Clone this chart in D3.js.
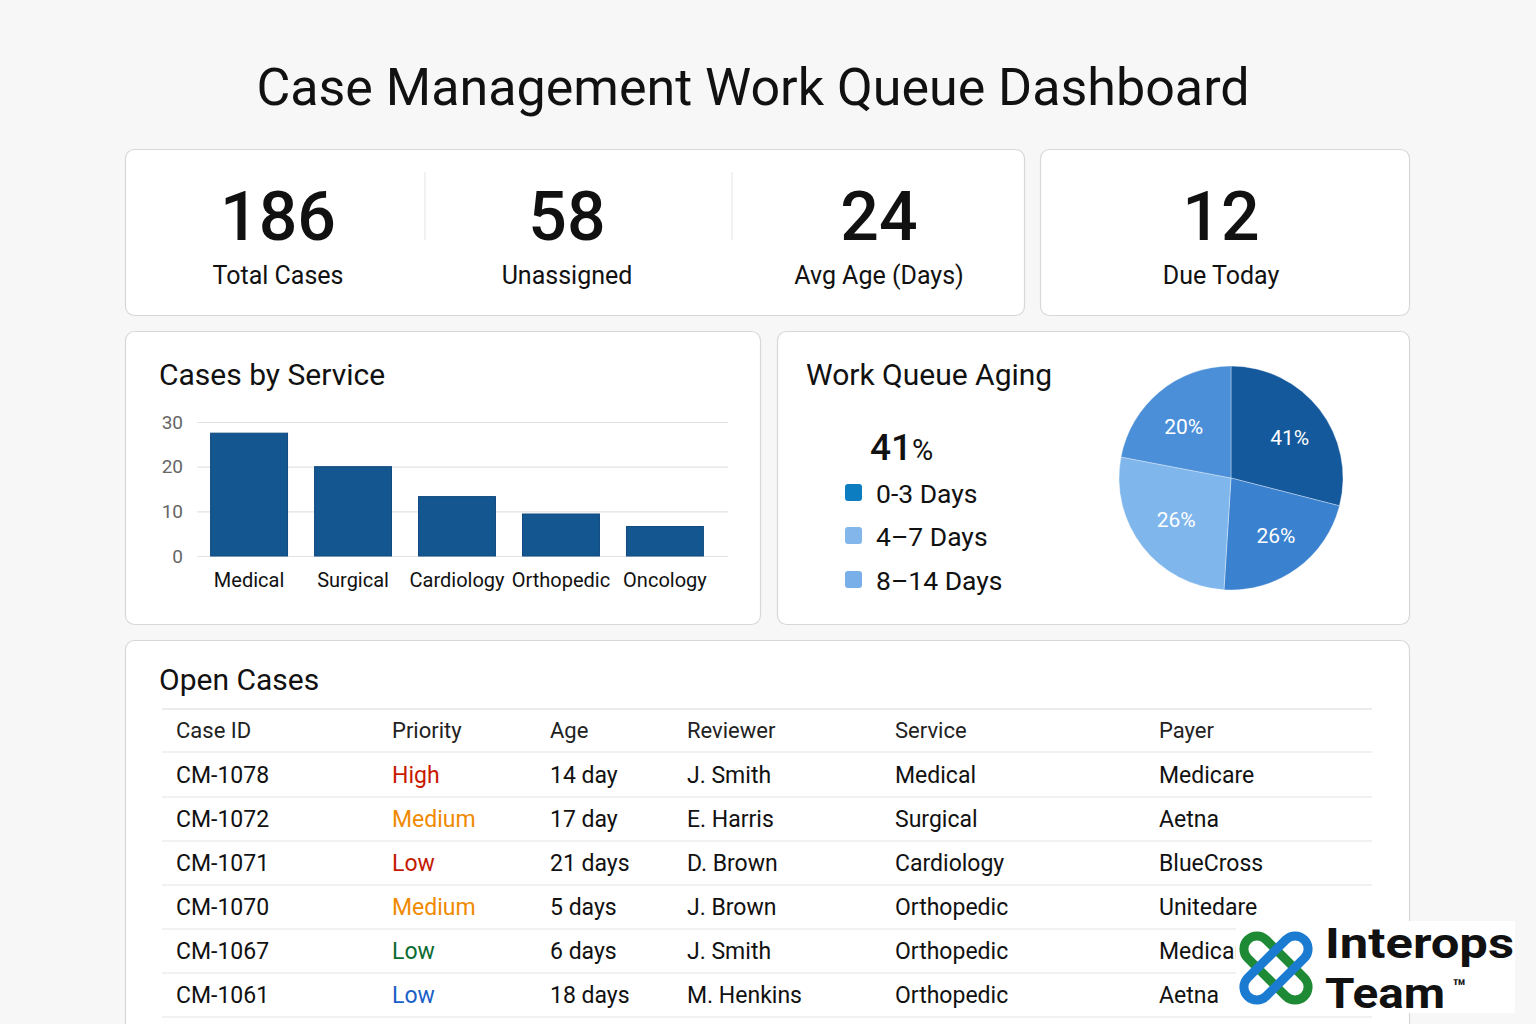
<!DOCTYPE html>
<html><head><meta charset="utf-8">
<script src="https://cdn.jsdelivr.net/npm/d3@7"></script>
<style>
html,body{margin:0;padding:0;background:#f7f7f7;}
svg{display:block;font-family:Roboto,"Noto Sans",sans-serif;}
</style></head>
<body><svg id="c" width="1536" height="1024"></svg>
<script>
// ---- data ----
const kpiValues = [186, 58, 24, 12];
const kpiLabels = ["Total Cases", "Unassigned", "Avg Age (Days)", "Due Today"];

const services = ["Medical", "Surgical", "Cardiology", "Orthopedic", "Oncology"];
const serviceCases = [27.5, 20, 13.3, 9.4, 6.6];
const yTicks = [0, 10, 20, 30];

const agingHeadline = "41";
const legendLabels = ["0-3 Days", "4–7 Days", "8–14 Days"];
const sliceShares = [29, 22, 27, 22];          // visual slice sizes
const sliceLabels = ["41%", "26%", "26%", "20%"];

const tableColumns = ["Case ID", "Priority", "Age", "Reviewer", "Service", "Payer"];
const caseIds   = ["CM-1078", "CM-1072", "CM-1071", "CM-1070", "CM-1067", "CM-1061"];
const priorities= ["High", "Medium", "Low", "Medium", "Low", "Low"];
const ages      = ["14 day", "17 day", "21 days", "5 days", "6 days", "18 days"];
const reviewers = ["J. Smith", "E. Harris", "D. Brown", "J. Brown", "J. Smith", "M. Henkins"];
const servicesCol = ["Medical", "Surgical", "Cardiology", "Orthopedic", "Orthopedic", "Orthopedic"];
const payers    = ["Medicare", "Aetna", "BlueCross", "Unitedare", "Medicare", "Aetna"];

// ---- styles ----
const svg = d3.select("#c");
const ink = "#111";
const priorityColors = ["#c81a00", "#f08a00", "#c41a00", "#f08a00", "#0b6b30", "#1a5fc8"];
const legendColors = ["#0b7dc0", "#83b6ea", "#78afe8"];
const sliceColors = ["#15599d", "#3a81cf", "#7fb6ec", "#4b8fd9"];

svg.append("rect").attr("width",1536).attr("height",1024).attr("fill","#f7f7f7");

svg.append("text").attr("x",753).attr("y",105).attr("text-anchor","middle")
  .attr("font-size",52).attr("fill",ink).text("Case Management Work Queue Dashboard");

function card(x,y,w,h){
  svg.append("rect").attr("x",x+0.5).attr("y",y+0.5).attr("width",w).attr("height",h)
    .attr("rx",9).attr("fill","#fff").attr("stroke","#d8d8d8").attr("stroke-width",1.2);
}
card(125,149,899,166);
card(1040,149,369,166);
card(125,331,635,293);
card(777,331,632,293);
card(125,640,1284,420);

// KPIs
const kpiX = [278, 567, 879, 1221];
[425, 732].forEach(x=>svg.append("line").attr("x1",x).attr("x2",x).attr("y1",172).attr("y2",240)
  .attr("stroke","#eeeeee").attr("stroke-width",1.5));
kpiValues.forEach((v,i)=>{
  svg.append("text").attr("x",kpiX[i]).attr("y",240).attr("text-anchor","middle")
    .attr("font-size",68).attr("font-weight",500).attr("fill",ink).text(v);
  svg.append("text").attr("x",kpiX[i]).attr("y",284).attr("text-anchor","middle")
    .attr("font-size",25).attr("fill",ink).text(kpiLabels[i]);
});

// Bar chart
svg.append("text").attr("x",159).attr("y",385).attr("font-size",30).attr("fill",ink).text("Cases by Service");
const x = d3.scaleBand().domain(services).range([195,719]).paddingInner(0.26).paddingOuter(0.15);
const y = d3.scaleLinear().domain([0,30]).range([556,422]);
const gy = svg.append("g").attr("transform","translate(197,0)")
  .call(d3.axisLeft(y).tickValues(yTicks).tickSize(-531).tickPadding(14));
gy.select(".domain").remove();
gy.selectAll(".tick line").attr("stroke","#e3e3e3").attr("stroke-width",1.2);
gy.selectAll(".tick text").attr("font-size",19).attr("fill","#666").attr("font-family","Roboto,sans-serif");
svg.selectAll("rect.bar").data(services).enter().append("rect").attr("class","bar")
  .attr("x",d=>x(d)).attr("width",x.bandwidth())
  .attr("y",(d,i)=>y(serviceCases[i])).attr("height",(d,i)=>y(0)-y(serviceCases[i]))
  .attr("fill","#14568f").attr("stroke","#0f4a80").attr("stroke-width",1);
const gx = svg.append("g").attr("transform","translate(0,556)")
  .call(d3.axisBottom(x).tickSize(0).tickPadding(17));
gx.select(".domain").remove();
gx.selectAll(".tick text").attr("font-size",20).attr("fill",ink).attr("font-family","Roboto,sans-serif");

// Aging
svg.append("text").attr("x",806).attr("y",385).attr("font-size",30).attr("fill",ink).text("Work Queue Aging");
const hl = svg.append("text").attr("x",870).attr("y",460).attr("fill",ink);
hl.append("tspan").attr("font-size",37).attr("font-weight",500).text(agingHeadline);
hl.append("tspan").attr("font-size",29).text("%");
legendLabels.forEach((l,i)=>{
  const cy = [493, 536, 580][i];
  svg.append("rect").attr("x",845).attr("y",cy-9).attr("width",17).attr("height",17).attr("rx",3)
    .attr("fill",legendColors[i]);
  svg.append("text").attr("x",876).attr("y",cy+10).attr("font-size",26.5).attr("fill",ink).text(l);
});

const pie = d3.pie().sort(null).value(d=>d);
const arcs = pie(sliceShares);
const arc = d3.arc().innerRadius(0).outerRadius(112);
const pg = svg.append("g").attr("transform","translate(1231,478)");
pg.selectAll("path").data(arcs).enter().append("path").attr("d",arc)
  .attr("fill",(d,i)=>sliceColors[i]).attr("stroke","#ffffff").attr("stroke-opacity",0.35).attr("stroke-width",1);
const labelOff = [[5,1],[5,3],[-1,0],[-4,1]];
const la = d3.arc().innerRadius(68).outerRadius(68);
pg.selectAll("text").data(arcs).enter().append("text")
  .attr("transform",(d,i)=>{const c=la.centroid(d);return `translate(${c[0]+labelOff[i][0]},${c[1]+labelOff[i][1]})`;})
  .attr("text-anchor","middle").attr("dy","0.35em").attr("font-size",21).attr("fill","#fff")
  .text((d,i)=>sliceLabels[i]);

// Table
svg.append("text").attr("x",159).attr("y",690).attr("font-size",30).attr("fill",ink).text("Open Cases");
const colX = [176, 392, 550, 687, 895, 1159];
const rowLines = [709, 752, 797, 841, 885, 929, 973, 1017];
rowLines.forEach((ly,i)=>svg.append("line").attr("x1",162).attr("x2",1372).attr("y1",ly).attr("y2",ly)
  .attr("stroke", i===0 ? "#e6e6e6" : "#ececec").attr("stroke-width",1.5));
tableColumns.forEach((c,i)=>svg.append("text").attr("x",colX[i]).attr("y",738)
  .attr("font-size",22).attr("fill","#222").text(c));
const rows = caseIds.map((id,i)=>[id, priorities[i], ages[i], reviewers[i], servicesCol[i], payers[i]]);
rows.forEach((r,ri)=>{
  const by = 783 + ri*44;
  r.forEach((v,ci)=>svg.append("text").attr("x",colX[ci]).attr("y",by).attr("font-size",23)
    .attr("fill", ci===1 ? priorityColors[ri] : ink).text(v));
});

// Logo
const lg = svg.append("g");
lg.append("rect").attr("x",1236).attr("y",921).attr("width",279).attr("height",92).attr("fill","#fff");
const ic = lg.append("g").attr("transform","translate(1276,968)");
ic.append("rect").attr("x",-40).attr("y",-13).attr("width",80).attr("height",26).attr("rx",13)
  .attr("transform","rotate(45)").attr("fill","none").attr("stroke","#1f8a35").attr("stroke-width",9);
ic.append("rect").attr("x",-40).attr("y",-13).attr("width",80).attr("height",26).attr("rx",13)
  .attr("transform","rotate(-45)").attr("fill","none").attr("stroke","#1a7bd0").attr("stroke-width",9);
lg.append("text").attr("x",1325).attr("y",958).attr("font-size",42).attr("font-weight",700)
  .attr("fill","#111").attr("textLength",189).attr("lengthAdjust","spacingAndGlyphs").text("Interops");
lg.append("text").attr("x",1325).attr("y",1008).attr("font-size",42).attr("font-weight",700)
  .attr("fill","#111").attr("textLength",120).attr("lengthAdjust","spacingAndGlyphs").text("Team");
lg.append("text").attr("x",1452).attr("y",995).attr("font-size",22).attr("font-weight",700)
  .attr("fill","#111").text("™");
</script></body></html>
